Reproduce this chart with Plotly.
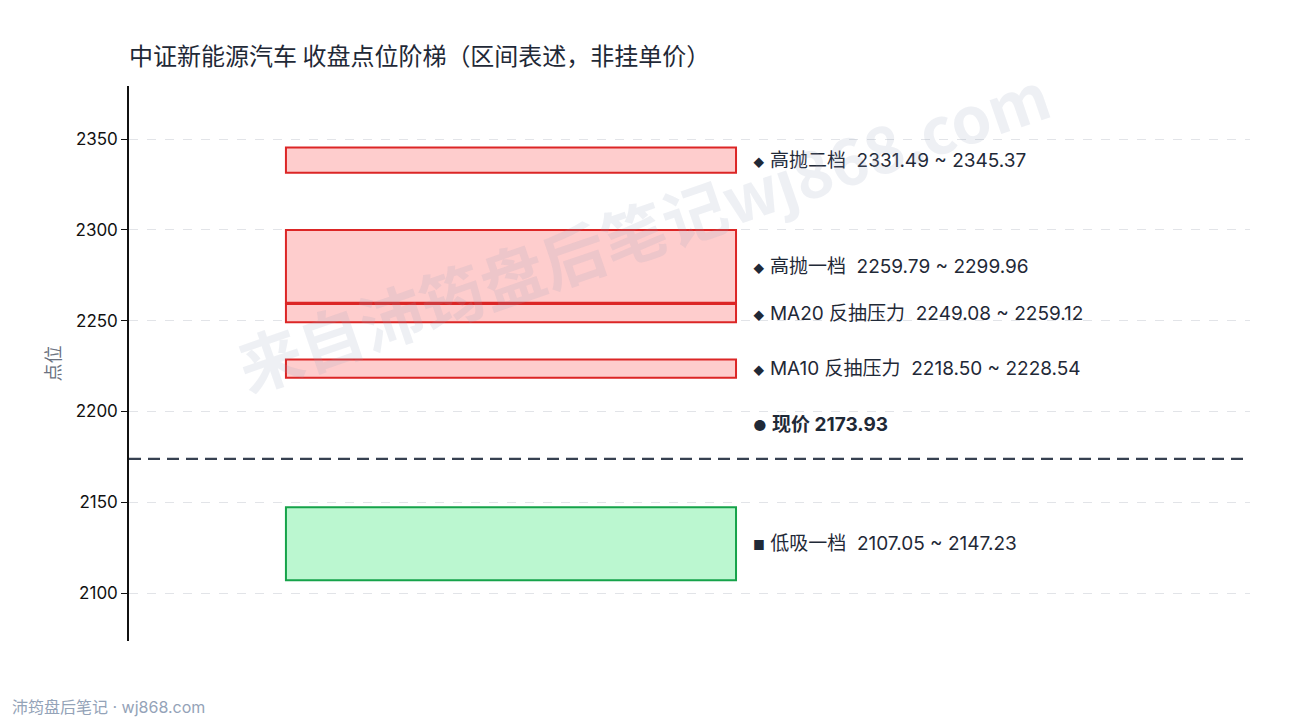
import plotly.graph_objects as go

# zones: name, low, high, kind
zone_names = ["高抛二档", "高抛一档", "MA20 反抽压力", "MA10 反抽压力", "低吸一档"]
zone_low = [2331.49, 2259.79, 2249.08, 2218.50, 2107.05]
zone_high = [2345.37, 2299.96, 2259.12, 2228.54, 2147.23]
zone_kind = ["sell", "sell", "sell", "sell", "buy"]
current_price = 2173.93
y_ticks = [2100, 2150, 2200, 2250, 2300, 2350]

FONT = "Inter, Noto Sans CJK SC"
TEXT = "#1f2937"
styles = {
    "sell": dict(fill="rgba(254,202,202,0.95)", line="#dc2626", mark="◆", msize=11),
    "buy": dict(fill="rgba(187,247,208,1)", line="#16a34a", mark="■", msize=13),
}
SP = "\u00a0"

fig = go.Figure()
# invisible trace so the axes exist
fig.add_trace(go.Scatter(x=[0, 1], y=[current_price, current_price], mode="markers",
                         marker=dict(opacity=0), hoverinfo="skip", showlegend=False))

x0, x1, xlab = 0.14, 0.5415, 0.555
for name, lo, hi, kind in zip(zone_names, zone_low, zone_high, zone_kind):
    st = styles[kind]
    fig.add_shape(type="rect", xref="x", yref="y", x0=x0, x1=x1, y0=lo, y1=hi,
                  fillcolor=st["fill"], line=dict(color=st["line"], width=2))
    fig.add_annotation(
        x=xlab, y=(lo + hi) / 2, xref="x", yref="y", xanchor="left", yanchor="middle",
        showarrow=False,
        text=f"<span style='font-size:{st['msize']}px'>{st['mark']}</span> {name}{SP}{SP}{lo:.2f}{SP}~{SP}{hi:.2f}",
        font=dict(family=FONT, size=19, color=TEXT))

fig.add_shape(type="line", xref="paper", yref="y", x0=0, x1=1,
              y0=current_price, y1=current_price,
              line=dict(color="#374151", width=2.2, dash="12px,7px"))
fig.add_annotation(
    x=xlab, y=current_price, xref="x", yref="y", xanchor="left", yanchor="middle",
    yshift=34, showarrow=False,
    text=f"<span style='font-size:15px'>●</span> <b>现价 {current_price:.2f}</b>",
    font=dict(family=FONT, size=19, color=TEXT))

# watermark
fig.add_annotation(
    x=0.458, y=0.744, xref="paper", yref="paper", xanchor="center", yanchor="middle",
    showarrow=False, textangle=-19,
    text="<b>来自沛筠盘后笔记wj868.com</b>",
    font=dict(family="Noto Sans CJK SC", size=64, color="rgba(148,163,184,0.16)"))

# footer
fig.add_annotation(
    x=-0.106, y=-0.119, xref="paper", yref="paper", xanchor="left", yanchor="middle",
    showarrow=False, text="沛筠盘后笔记 · wj868.com",
    font=dict(family=FONT, size=16, color="#94a3b8"))

fig.update_layout(
    width=1290, height=720,
    paper_bgcolor="white", plot_bgcolor="white",
    margin=dict(l=129, r=40, t=86, b=79),
    title=dict(text="中证新能源汽车 收盘点位阶梯（区间表述，非挂单价）",
               x=0.1, xanchor="left", y=0.922, yanchor="middle",
               font=dict(family="Noto Sans CJK SC", size=24, color=TEXT)),
    font=dict(family=FONT, color=TEXT),
    xaxis=dict(range=[0, 1], visible=False, fixedrange=True),
    yaxis=dict(range=[2073.6, 2379.2], tickvals=y_ticks,
               showline=True, linecolor="#111111", linewidth=1.5,
               ticks="outside", ticklen=6, tickcolor="#111111",
               showgrid=True, gridcolor="#e2e4e8", griddash="dash", gridwidth=1,
               zeroline=False,
               tickfont=dict(family="Inter", size=17, color="#111111"),
               title=dict(text="点位", standoff=10,
                          font=dict(family="Noto Sans CJK SC", size=18, color="#6b7280"))),
    showlegend=False,
)

fig.write_html("out.html", config={"displayModeBar": False},
               post_script="document.body.style.margin='0';")
